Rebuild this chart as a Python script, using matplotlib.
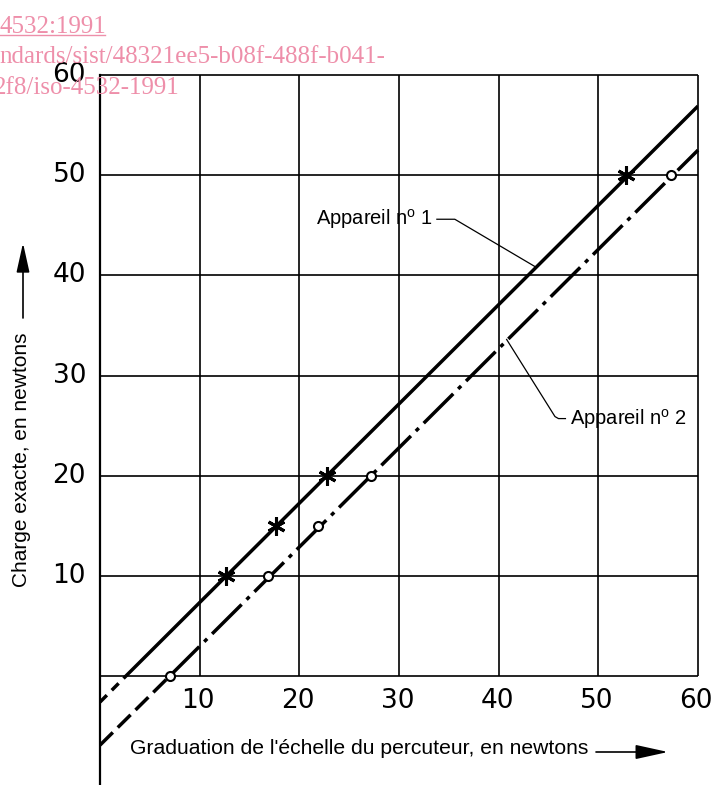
import numpy as np
import matplotlib
matplotlib.use('Agg')
import matplotlib.pyplot as plt
from matplotlib.lines import Line2D

# ---------------- data ----------------
x_tick_vals = [10, 20, 30, 40, 50, 60]
x_tick_labels = ['10', '20', '30', '40', '50', '60']
y_tick_vals = [10, 20, 30, 40, 50, 60]
y_tick_labels = ['10', '20', '30', '40', '50', '60']
grid_vals = [0, 10, 20, 30, 40, 50, 60]

# Appareil no 1 : calibration points (graduation, exact load)
app1_x = [12.6, 17.7, 22.8, 52.8]
app1_y = [10, 15, 20, 50]
# Appareil no 2
app2_x = [7.0, 16.9, 21.9, 27.2, 57.3]
app2_y = [0, 10, 15, 20, 50]

# straight calibration lines (first segment below 0 dashed)
app1_line_x = [0.0, 2.6, 60.0]
app1_line_y = [-2.6, 0.0, 56.9]
app2_line_x = [0.0, 7.0, 60.0]
app2_line_y = [-6.9, 0.0, 52.5]

label1 = r'Appareil n$^{\mathrm{o}}$ 1'
label2 = r'Appareil n$^{\mathrm{o}}$ 2'
xlabel = "Graduation de l'échelle du percuteur, en newtons"
ylabel = "Charge exacte, en newtons"
watermark = ['4532:1991', 'ndards/sist/48321ee5-b08f-488f-b041-', '2f8/iso-4532-1991']

# ---------------- style ----------------
plt.rcParams['font.family'] = ['Liberation Sans', 'DejaVu Sans']
plt.rcParams['mathtext.fontset'] = 'custom'
plt.rcParams['mathtext.rm'] = 'Liberation Sans'
plt.rcParams['lines.scale_dashes'] = False
tick_font = ['Liberation Sans Narrow', 'DejaVu Sans Condensed', 'DejaVu Sans']

W, H = 714, 785
fig = plt.figure(figsize=(W / 100, H / 100), dpi=100)
ax = fig.add_axes([100 / W, 0.0, 598 / W, (H - 75) / H])
ax.set_xlim(0, 60)
ax.set_ylim(-10.88, 60)
for s in ax.spines.values():
    s.set_visible(False)
ax.set_xticks([])
ax.set_yticks([])

# grid / frame
ax.vlines(grid_vals[1:], 0, 60, color='k', lw=1.2, clip_on=False, zorder=1)
ax.hlines(grid_vals, 0, 60, color='k', lw=1.2, clip_on=False, zorder=1)
ax.axvline(0, color='k', lw=1.6, clip_on=False, zorder=1)

# calibration lines
lw = 2.5
ax.plot(app1_line_x[:2], app1_line_y[:2], color='k', lw=lw, dashes=(7, 5), zorder=3)
ax.plot(app1_line_x[1:], app1_line_y[1:], color='k', lw=lw, solid_capstyle='butt', zorder=3)
ax.plot(app2_line_x[:2], app2_line_y[:2], color='k', lw=lw, dashes=(13, 5), zorder=3)
ax.plot(app2_line_x[1:], app2_line_y[1:], color='k', lw=lw, dashes=(30, 5, 3, 5), zorder=3,
        clip_on=False)

# points
ax.plot(app1_x, app1_y, ls='none', marker=(6, 2, 0), ms=13, mew=2.2, color='k', zorder=5)
ax.plot(app2_x, app2_y, ls='none', marker='o', ms=6.5, mew=1.5, mfc='white', mec='k', zorder=5)

# tick labels
for v, t in zip(x_tick_vals, x_tick_labels):
    ax.annotate(t, (v, 0), xytext=(-1.2, -18), textcoords='offset points', ha='center', va='center',
                fontsize=19, family=tick_font)
for v, t in zip(y_tick_vals, y_tick_labels):
    ax.annotate(t, (0, v), xytext=(-10, 0), textcoords='offset points', ha='right', va='center',
                fontsize=19, family=tick_font)

# annotations
ax.text(33.4, 45.6, label1, ha='right', va='center', fontsize=14.5)
ax.plot([33.8, 35.6, 43.6], [45.6, 45.6, 40.9], color='k', lw=0.9, zorder=2)
ax.text(47.2, 25.7, label2, ha='left', va='center', fontsize=14.5)
ax.plot([40.8, 45.65, 46.0, 46.7], [33.6, 25.9, 25.7, 25.7], color='k', lw=0.9, zorder=2)

# axis titles with arrows
fig.text(22 / W, (H - 460) / H, ylabel, rotation=90, ha='center', va='center', fontsize=15)
fig.text(130 / W, (H - 748) / H, xlabel, ha='left', va='center', fontsize=15.2)
ax.annotate('', xy=(23, H - 243), xytext=(23, H - 318), xycoords='figure pixels',
            textcoords='figure pixels',
            arrowprops=dict(arrowstyle='-|>,head_length=0.9,head_width=0.2', lw=1.2,
                            color='k', mutation_scale=20, shrinkA=0, shrinkB=0))
ax.annotate('', xy=(668, H - 752), xytext=(596, H - 752), xycoords='figure pixels',
            textcoords='figure pixels',
            arrowprops=dict(arrowstyle='-|>,head_length=1.0,head_width=0.22', lw=1.2,
                            color='k', mutation_scale=20, shrinkA=0, shrinkB=0))

# pink watermark
pink = '#EE8FAA'
fig.text(-1 / W, (H - 33) / H, watermark[0], ha='left', va='baseline', fontsize=18,
         family='Liberation Serif', color=pink, zorder=10)
fig.add_artist(Line2D([0, 105 / W], [(H - 35) / H, (H - 35) / H], color=pink, lw=1.0, zorder=10))
fig.text(-1 / W, (H - 63) / H, watermark[1], ha='left', va='baseline', fontsize=18,
         family='Liberation Serif', color=pink, zorder=10)
fig.text(-6 / W, (H - 94) / H, watermark[2], ha='left', va='baseline', fontsize=18,
         family='Liberation Serif', color=pink, zorder=10)

fig.savefig('out.png', dpi=100)
